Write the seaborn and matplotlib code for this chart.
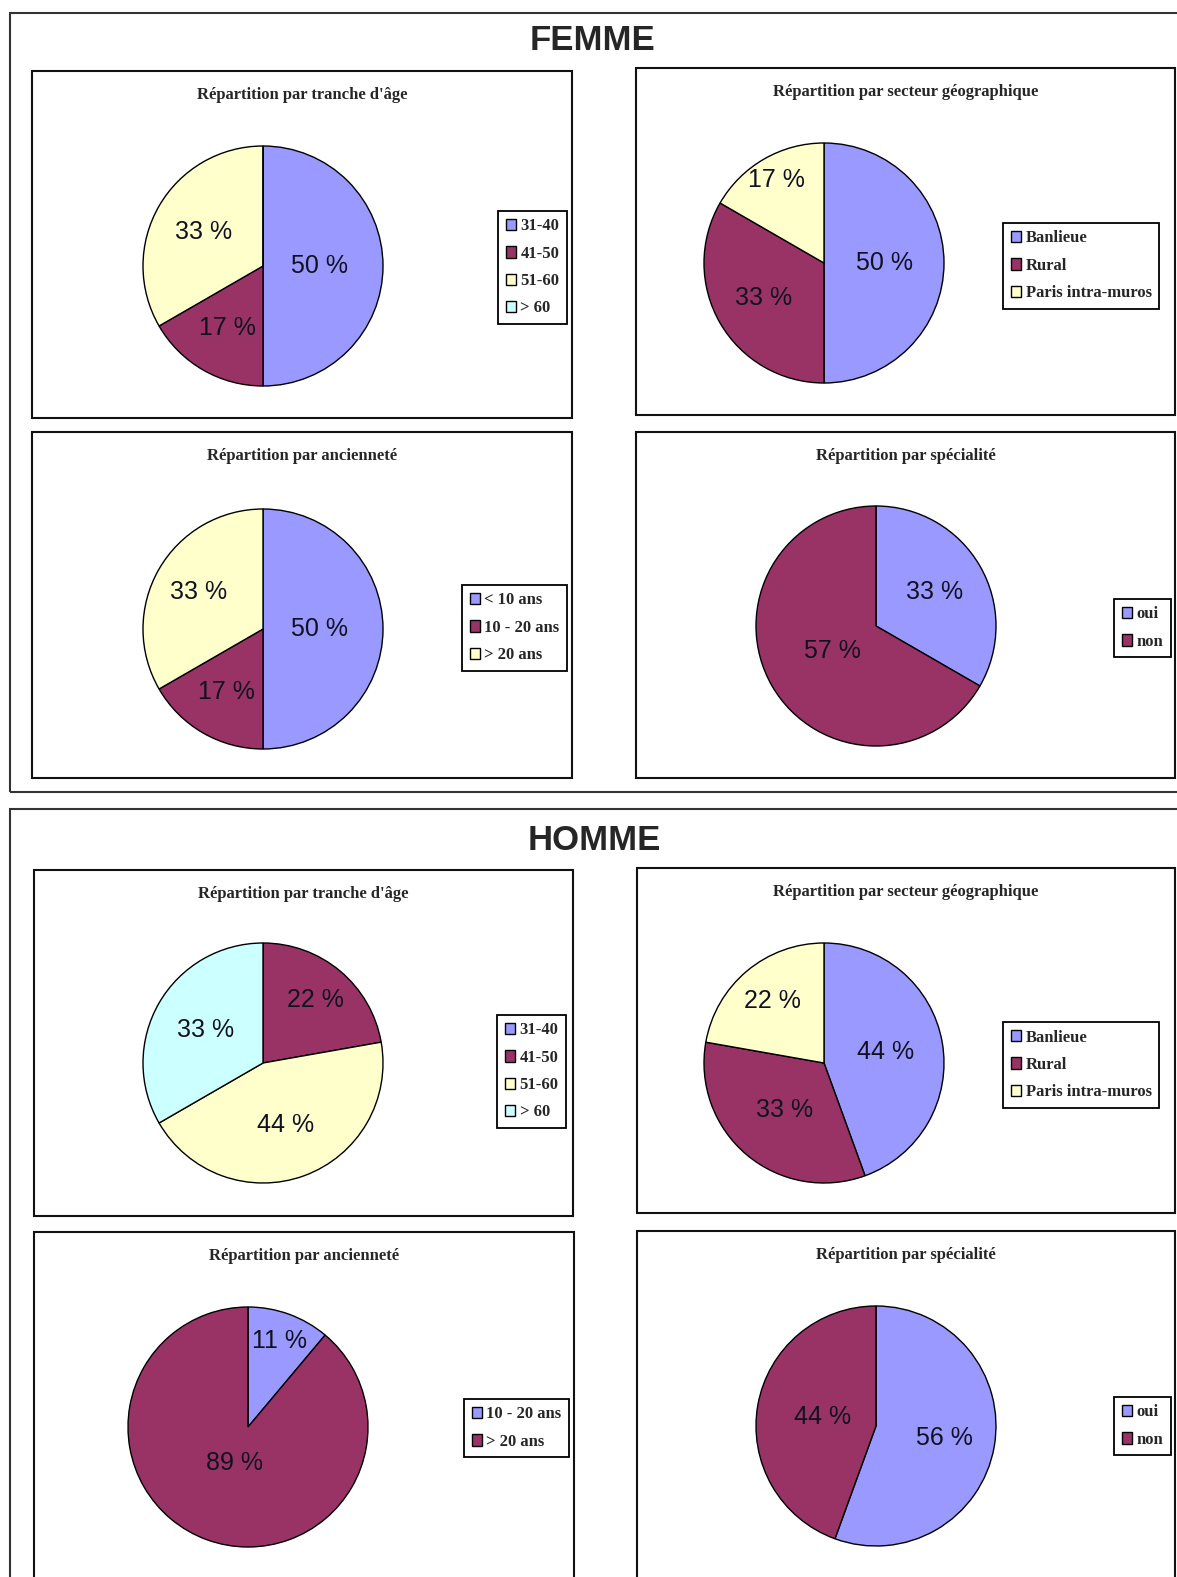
import numpy as np
import matplotlib.pyplot as plt
import seaborn as sns
from matplotlib.patches import Rectangle, Patch

# ---------------------------------------------------------
# données (effectifs lus sur les camemberts)
# ---------------------------------------------------------
age_labels = ["31-40", "41-50", "51-60", "> 60"]
secteur_labels = ["Banlieue", "Rural", "Paris intra-muros"]
spec_labels = ["oui", "non"]

femme_age = [3, 1, 2, 0]
femme_age_pct = ["50 %", "17 %", "33 %", ""]
femme_secteur = [3, 2, 1]
femme_secteur_pct = ["50 %", "33 %", "17 %"]
femme_anc_labels = ["< 10 ans", "10 - 20 ans", "> 20 ans"]
femme_anc = [3, 1, 2]
femme_anc_pct = ["50 %", "17 %", "33 %"]
femme_spec = [2, 4]
femme_spec_pct = ["33 %", "57 %"]

homme_age = [0, 2, 4, 3]
homme_age_pct = ["", "22 %", "44 %", "33 %"]
homme_secteur = [4, 3, 2]
homme_secteur_pct = ["44 %", "33 %", "22 %"]
homme_anc_labels = ["10 - 20 ans", "> 20 ans"]
homme_anc = [1, 8]
homme_anc_pct = ["11 %", "89 %"]
homme_spec = [5, 4]
homme_spec_pct = ["56 %", "44 %"]

# palette Excel
excel = sns.color_palette(["#9999FF", "#993366", "#FFFFCC", "#CCFFFF"])

sns.set_theme(style="white")
plt.rcParams['font.family'] = ['Liberation Sans', 'DejaVu Sans']

W, H = 1177, 1577
fig = plt.figure(figsize=(W / 100, H / 100), dpi=100)
fig.patch.set_facecolor("white")


def frame(x0, y0, x1, y1, lw=1.5, color="black"):
    fig.add_artist(Rectangle((x0 / W, 1 - y1 / H), (x1 - x0) / W, (y1 - y0) / H,
                             transform=fig.transFigure, fill=False, lw=lw, ec=color))


def panel(box, title, pie_c, leg_xy, counts, pct, labels, colors, ldist):
    x0, y0, x1, y1 = box
    frame(x0, y0, x1, y1, lw=1.5, color="#111111")
    fig.text((x0 + x1) / 2 / W, 1 - (y0 + 24) / H, title, ha="center", va="center",
             family="Liberation Serif", weight="bold", size=12)
    cx, cy = pie_c
    r = 120
    ax = fig.add_axes([(cx - r) / W, 1 - (cy + r) / H, 2 * r / W, 2 * r / H])
    wedges, texts = ax.pie(counts, colors=colors, startangle=90, counterclock=False,
                           labels=pct, labeldistance=1.0,
                           wedgeprops=dict(edgecolor="black", linewidth=1),
                           textprops=dict(fontsize=18, color="#111122"))
    # étiquettes à l'intérieur, distance radiale propre à chaque part
    for t, d in zip(texts, ldist):
        x, y = t.get_position()
        t.set_position((x * d, y * d))
        t.set_ha("center")
        t.set_va("center")
    ax.set_xlim(-1, 1)
    ax.set_ylim(-1, 1)
    ax.axis("off")
    handles = [Patch(facecolor=c, edgecolor="black", lw=1, label=l) for c, l in zip(colors, labels)]
    leg = fig.legend(handles=handles, loc="upper left",
                     bbox_to_anchor=(leg_xy[0] / W, 1 - leg_xy[1] / H),
                     bbox_transform=fig.transFigure, frameon=True, fancybox=False,
                     framealpha=1, edgecolor="black", borderaxespad=0,
                     prop=dict(family="Liberation Serif", weight="bold", size=12),
                     handlelength=0.65, handleheight=0.65, handletextpad=0.25,
                     labelspacing=0.68, borderpad=0.45)
    leg.get_frame().set_linewidth(1.3)


# ---------------- FEMME ----------------
frame(10, 13, 1195, 792, lw=1.5, color="#333333")
fig.text(593 / W, 1 - 40 / H, "FEMME", ha="center", va="center", size=25, weight="bold")

panel((32, 71, 572, 418), "Répartition par tranche d'âge", (263, 266), (498, 211),
      femme_age, femme_age_pct, age_labels, excel[:4], [0.47, 0.6, 0.57, 0.5])
panel((636, 68, 1175, 415), "Répartition par secteur géographique", (824, 263), (1003, 223),
      femme_secteur, femme_secteur_pct, secteur_labels, excel[:3], [0.5, 0.58, 0.8])
panel((32, 432, 572, 778), "Répartition par ancienneté", (263, 629), (462, 585),
      femme_anc, femme_anc_pct, femme_anc_labels, excel[:3], [0.47, 0.61, 0.62])
panel((636, 432, 1175, 778), "Répartition par spécialité", (876, 626), (1114, 599),
      femme_spec, femme_spec_pct, spec_labels, excel[:2], [0.56, 0.42])

# ---------------- HOMME ----------------
frame(10, 809, 1195, 1600, lw=1.5, color="#333333")
fig.text(594 / W, 1 - 840 / H, "HOMME", ha="center", va="center", size=25, weight="bold")

panel((34, 870, 573, 1216), "Répartition par tranche d'âge", (263, 1063), (497, 1015),
      homme_age, homme_age_pct, age_labels, excel[:4], [0.5, 0.68, 0.55, 0.55])
panel((637, 868, 1175, 1213), "Répartition par secteur géographique", (824, 1063), (1003, 1022),
      homme_secteur, homme_secteur_pct, secteur_labels, excel[:3], [0.52, 0.51, 0.67])
panel((34, 1232, 574, 1600), "Répartition par ancienneté", (248, 1427), (464, 1399),
      homme_anc, homme_anc_pct, homme_anc_labels, [excel[0], excel[1]], [0.76, 0.32])
panel((637, 1231, 1175, 1600), "Répartition par spécialité", (876, 1426), (1114, 1397),
      homme_spec, homme_spec_pct, spec_labels, excel[:2], [0.58, 0.45])

fig.savefig("out.png", dpi=100, facecolor="white")
